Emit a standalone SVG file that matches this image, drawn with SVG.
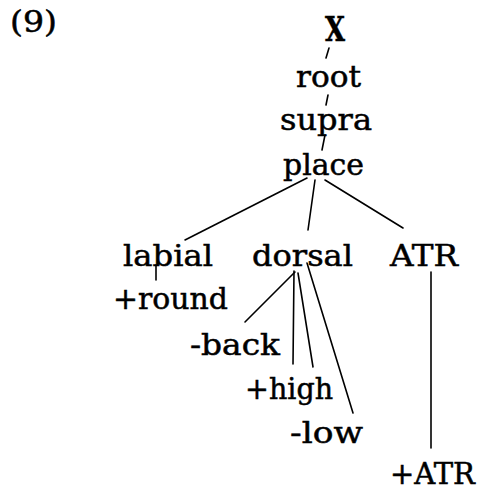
<svg xmlns="http://www.w3.org/2000/svg" width="479" height="490" viewBox="0 0 479 490">
<style>
text{font-family:"DejaVu Serif","Liberation Serif",serif;font-size:29px;fill:#000;stroke:#000;stroke-width:0.5}
.big{font-size:33px;font-weight:bold}
line{stroke:#000;stroke-width:1.6;stroke-linecap:round}
</style>
<rect width="479" height="490" fill="#fff"/>
<text id="label9" x="10" y="32" textLength="47" lengthAdjust="spacingAndGlyphs" font-size="27">(9)</text>
<g id="connectors">
<line x1="329" y1="48" x2="326" y2="58"/>
<line x1="328" y1="95" x2="326" y2="105"/>
<line x1="325" y1="135" x2="322" y2="150"/>
<line x1="307" y1="178" x2="185" y2="240"/>
<line x1="315" y1="180" x2="308" y2="230"/>
<line x1="325" y1="180" x2="403" y2="228"/>
<line x1="156" y1="265" x2="156" y2="280"/>
<line x1="295" y1="272" x2="245" y2="322"/>
<line x1="294" y1="271" x2="293" y2="364"/>
<line x1="298" y1="273" x2="313" y2="367"/>
<line x1="307" y1="263" x2="353" y2="413"/>
<line x1="431" y1="272" x2="431" y2="448"/>
</g>
<g id="X"><text class="big" x="325" y="41" textLength="20" lengthAdjust="spacingAndGlyphs">X</text></g>
<g id="root"><text x="296" y="87" textLength="65" lengthAdjust="spacingAndGlyphs">root</text></g>
<g id="supra"><text x="280" y="130" textLength="92" lengthAdjust="spacingAndGlyphs">supra</text></g>
<g id="place"><text x="283" y="175" textLength="81" lengthAdjust="spacingAndGlyphs">place</text></g>
<g id="labial"><text x="123" y="266" textLength="90" lengthAdjust="spacingAndGlyphs">labial</text></g>
<g id="dorsal"><text x="252" y="266" textLength="101" lengthAdjust="spacingAndGlyphs">dorsal</text></g>
<g id="ATR"><text x="390" y="266" textLength="68" lengthAdjust="spacingAndGlyphs">ATR</text></g>
<g id="round"><text x="113" y="309" textLength="115" lengthAdjust="spacingAndGlyphs">+round</text></g>
<g id="back"><text x="190" y="355" textLength="90" lengthAdjust="spacingAndGlyphs">-back</text></g>
<g id="high"><text x="245" y="399" textLength="88" lengthAdjust="spacingAndGlyphs">+high</text></g>
<g id="low"><text x="290" y="443" textLength="73" lengthAdjust="spacingAndGlyphs">-low</text></g>
<g id="plusATR"><text x="390" y="484" textLength="85" lengthAdjust="spacingAndGlyphs" font-size="28">+ATR</text></g>
</svg>
